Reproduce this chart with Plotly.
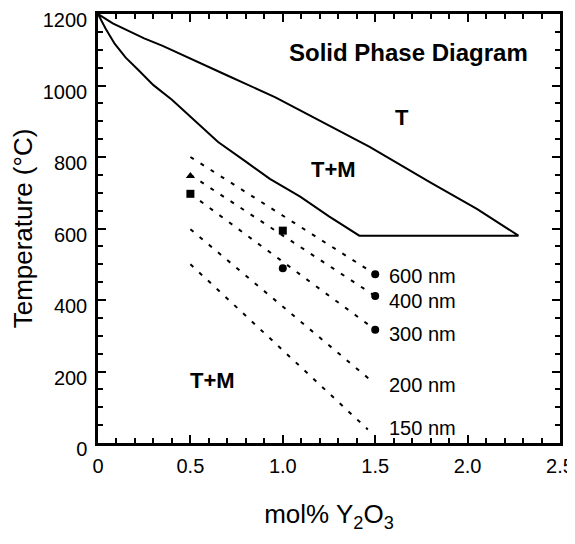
import plotly.graph_objects as go

# Phase boundaries (mol% Y2O3, temperature °C)
upper_x = [0, 0.08, 0.16, 0.25, 0.35, 0.47, 0.7, 0.96, 1.2, 1.47, 1.8, 2.05, 2.275]
upper_y = [1200, 1174, 1153, 1132, 1111, 1083, 1028, 967, 902, 828, 728, 655, 580]
lower_x = [0, 0.04, 0.09, 0.15, 0.217, 0.3, 0.4, 0.52, 0.65, 0.8, 0.93, 1.094, 1.25, 1.414]
lower_y = [1200, 1160, 1117, 1078, 1044, 1001, 960, 902, 842, 787, 739, 689, 634, 580]

# Particle-size dashed lines
sizes = ["600 nm", "400 nm", "300 nm", "200 nm", "150 nm"]
dash_x0 = [0.5, 0.5, 0.5, 0.5, 0.5]
dash_x1 = [1.5, 1.5, 1.5, 1.47, 1.46]
dash_y0 = [800, 750, 697, 598, 500]
dash_y1 = [472, 411, 317, 178, 38]
label_y = [467, 397, 305, 161, 42]

# Measured points
pts_x = [0.5, 0.5, 1.0, 1.0, 1.5, 1.5, 1.5]
pts_y = [747, 697, 594, 489, 472, 411, 317]
pts_sym = ["triangle-up", "square", "square", "circle", "circle", "circle", "circle"]

x_ticks = [0, 0.5, 1.0, 1.5, 2.0, 2.5]
x_ticktext = ["0", "0.5", "1.0", "1.5", "2.0", "2.5"]
y_ticks = [0, 200, 400, 600, 800, 1000, 1200]

FONT = "Arial, Liberation Sans, Helvetica, sans-serif"

fig = go.Figure()

# Closed boundary: lower curve -> horizontal -> upper curve back to origin
bx = lower_x + upper_x[::-1]
by = lower_y + upper_y[::-1]
fig.add_trace(go.Scatter(x=bx, y=by, mode="lines",
                         line=dict(color="black", width=2),
                         showlegend=False, hoverinfo="skip"))

for i, s in enumerate(sizes):
    fig.add_trace(go.Scatter(x=[dash_x0[i], dash_x1[i]], y=[dash_y0[i], dash_y1[i]],
                             mode="lines", name=s,
                             line=dict(color="black", width=2, dash="4px,8px"),
                             showlegend=False))

fig.add_trace(go.Scatter(x=pts_x, y=pts_y, mode="markers",
                         marker=dict(color="black", size=8, symbol=pts_sym),
                         showlegend=False))

for i, s in enumerate(sizes):
    fig.add_annotation(x=1.565, y=label_y[i], text=s, showarrow=False,
                       xanchor="left", yanchor="middle",
                       font=dict(family=FONT, size=20, color="black"))

region_labels = [("<b>T</b>", 1.647, 911, 22), ("<b>T+M</b>", 1.273, 764, 22),
                 ("<b>T+M</b>", 0.618, 175, 22), ("<b>Solid Phase Diagram</b>", 1.68, 1092, 24)]
for t, x, y, fs in region_labels:
    fig.add_annotation(x=x, y=y, text=t, showarrow=False,
                       font=dict(family=FONT, size=fs, color="black"))

axis_common = dict(showline=True, linecolor="black", linewidth=2.5, mirror="allticks",
                   ticks="inside", ticklen=8, tickwidth=2, tickcolor="black",
                   showgrid=False, zeroline=False, automargin=False,
                   ticklabeloverflow="allow",
                   tickfont=dict(family=FONT, size=20, color="black"))

fig.update_xaxes(range=[0, 2.5], tickvals=x_ticks, ticktext=x_ticktext,
                 ticklabelstandoff=3,
                 minor=dict(dtick=0.1, ticks="inside", ticklen=5, tickwidth=2, tickcolor="black"),
                 title=dict(text="mol% Y<sub>2</sub>O<sub>3</sub>", standoff=30,
                            font=dict(family=FONT, size=26, color="black")),
                 **axis_common)
fig.update_yaxes(range=[0, 1200], tickvals=y_ticks,
                 ticklabelstandoff=4, ticklabelshift=6,
                 minor=dict(dtick=50, ticks="inside", ticklen=5, tickwidth=2, tickcolor="black"),
                 title=dict(text="Temperature (°C)", standoff=7,
                            font=dict(family=FONT, size=26, color="black")),
                 **axis_common)

fig.update_layout(width=567, height=536, plot_bgcolor="white", paper_bgcolor="white",
                  margin=dict(l=90, r=15, t=6, b=101), showlegend=False)

fig.write_html("out.html")
